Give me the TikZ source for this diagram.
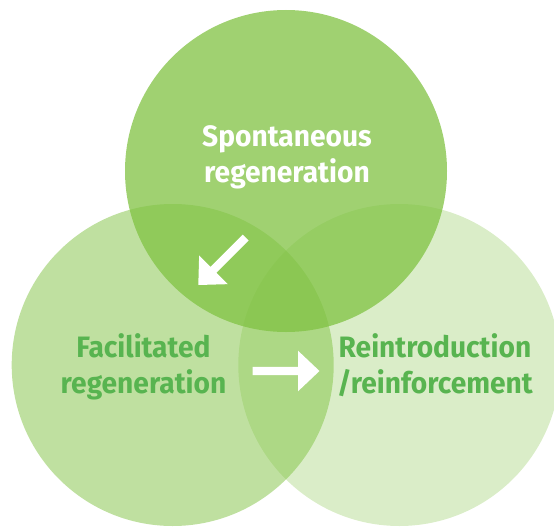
\documentclass[tikz,border=0pt]{standalone}
\usepackage{fontspec}
\newfontfamily\labelfont{Fira Sans}[FakeStretch=0.955]
\definecolor{leaf}{RGB}{128,194,66}
\definecolor{labelgreen}{RGB}{88,180,80}
\tikzset{
  venn/.style={fill=leaf, draw=none},
  lbl/.style={font=\labelfont\bfseries\fontsize{29.5}{35.5}\selectfont, align=center, inner sep=0pt, anchor=base},
  blockarrow/.style={fill=white, draw=none}
}
\begin{document}
\begin{tikzpicture}[x=1pt,y=-1pt]
\useasboundingbox (0,0) rectangle (554,527);
\clip (0,0) rectangle (554,527);
\fill[venn, fill opacity=0.5] (172.7,365) circle[radius=161];
\fill[venn, fill opacity=0.29] (399.3,365) circle[radius=161];
\fill[venn, fill opacity=0.75] (286,171) circle[radius=161];
\node[lbl, text=white] (spont) at (287,182) {Spontaneous\\regeneration};
\node[lbl, text=labelgreen] (facil) at (143.5,393) {Facilitated\\regeneration};
\node[lbl, text=labelgreen] (reint) at (435,393) {Reintroduction\\/reinforcement};
\begin{scope}[shift={(198.3,285)}, rotate=-135]
  \fill[blockarrow] (-67,-4.2) -- (-21.5,-4.2) -- (-21.5,-20.3) -- (0,0) -- (-21.5,20.3) -- (-21.5,4.2) -- (-67,4.2) -- cycle;
\end{scope}
\begin{scope}[shift={(319.5,371)}]
  \fill[blockarrow] (-67,-4.2) -- (-21.5,-4.2) -- (-21.5,-20.3) -- (0,0) -- (-21.5,20.3) -- (-21.5,4.2) -- (-67,4.2) -- cycle;
\end{scope}
\end{tikzpicture}
\end{document}
